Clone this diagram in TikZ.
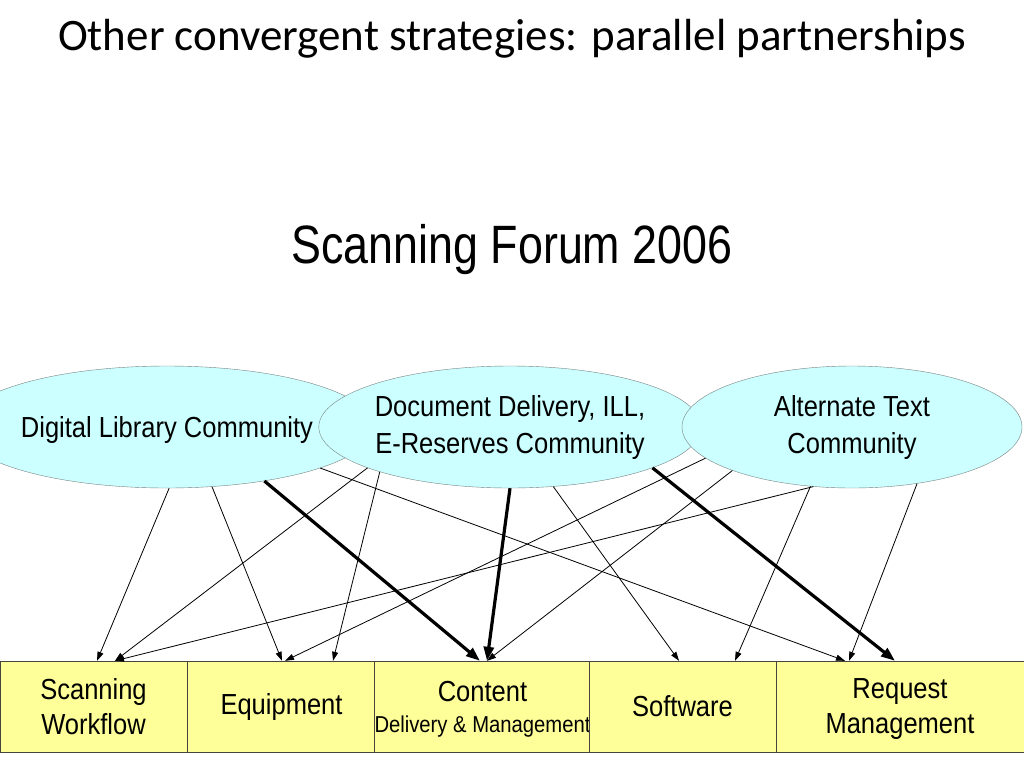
\documentclass[tikz,border=0pt]{standalone}
\usepackage{fontspec}
\setmainfont{Carlito}
\newfontfamily\arialfont[FakeStretch=0.88]{Liberation Sans}
\newfontfamily\headfont[FakeStretch=0.83]{Liberation Sans}
\usetikzlibrary{shapes.geometric,arrows.meta}
\definecolor{commcyan}{RGB}{204,255,255}
\definecolor{commedge}{RGB}{120,130,130}
\definecolor{stripyellow}{RGB}{255,255,153}
\definecolor{stripedge}{RGB}{70,70,60}

\begin{document}
\begin{tikzpicture}[x=1pt, y=-1pt,
    community/.style={ellipse, draw=commedge, fill=commcyan, inner sep=0pt,
      minimum height=122pt, align=center, font=\arialfont\fontsize{29}{37}\selectfont},
    topic/.style={rectangle, draw=stripedge, fill=stripyellow, inner sep=0pt,
      minimum height=91pt, align=center, font=\arialfont\fontsize{29}{35}\selectfont},
    flow/.style={-{Triangle[length=9pt,width=6pt]}, line width=0.8pt},
    mainflow/.style={-{Triangle[length=14pt,width=10pt]}, line width=3.2pt}]
  \useasboundingbox[fill=white] (0,0) rectangle (1024,768);

  \node[anchor=base, font=\fontsize{45}{52}\selectfont] (title) at (512,50)
    {Other convergent strategies: parallel partnerships};
  \node[anchor=base, font=\headfont\fontsize{54}{60}\selectfont] (forum) at (512,263)
    {Scanning Forum 2006};

  % communities
  \node[community, minimum width=332pt, text depth=0pt] (dl) at (167,427) {Digital Library Community};
  \node[community, minimum width=374pt] (dd) at (510,427) {Document Delivery, ILL,\\E-Reserves Community};
  \node[community, minimum width=340pt] (at) at (852,427) {Alternate Text\\Community};

  % topics
  \node[topic, minimum width=187pt] (sw) at (93.5,706.5) {Scanning\\Workflow};
  \node[topic, minimum width=189pt] (eq) at (281.5,706.5) {Equipment};
  \node[topic, minimum width=213pt, text depth=0pt] (ct) at (482.5,706.5)
    {Content\\[-4pt]{\fontsize{23}{27}\selectfont Delivery \& Management}};
  \node[topic, minimum width=187pt] (so) at (682.5,706.5) {Software};
  \node[topic, minimum width=248pt, text depth=0pt] (rm) at (900,706.5) {Request\\Management};

  \draw[flow] (dl.-88) -- ([xshift=3.5pt]sw.north);
  \draw[flow] (dl.-53) -- ([xshift=0.5pt]eq.north);
  \draw[mainflow] (dl.-29) -- ([xshift=-2.5pt]ct.north);
  \draw[flow] (dl.-15.6) -- ([xshift=-55pt]rm.north);

  \draw[flow] (dd.-164.9) -- ([xshift=21.5pt]sw.north);
  \draw[flow] (dd.-161.2) -- ([xshift=51.5pt]eq.north);
  \draw[mainflow] (dd.-90) -- ([xshift=4.5pt]ct.north);
  \draw[flow] (dd.-54.2) -- ([xshift=-3.5pt]so.north);
  \draw[mainflow] (dd.-16) -- ([xshift=-5pt]rm.north);

  \draw[flow] (at.-168.7) -- ([xshift=3.5pt]eq.north);
  \draw[flow] (at.-160.3) -- ([xshift=4.5pt]ct.north);
  \draw[flow] (at.-123.3) -- ([xshift=21.5pt]sw.north);
  \draw[flow] (at.-125.2) -- ([xshift=52.5pt]so.north);
  \draw[flow] (at.-41.9) -- ([xshift=-51pt]rm.north);
\end{tikzpicture}
\end{document}
